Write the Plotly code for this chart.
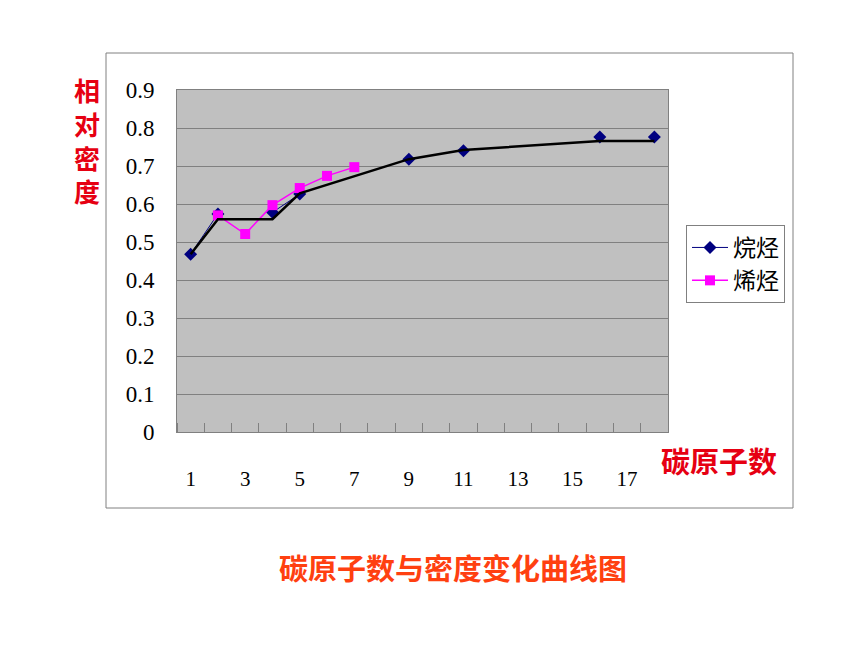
import plotly.graph_objects as go

# Data
carbon_numbers = list(range(1, 19))
alkane = [0.468, 0.574, None, 0.578, 0.626, None, None, None, 0.718, None,
          0.740, None, None, None, None, 0.776, None, 0.776]
alkene = [None, 0.570, 0.521, 0.597, 0.642, 0.674, 0.697, None, None, None,
          None, None, None, None, None, None, None, None]
trend_x = [1, 2, 4, 5, 9, 11, 16, 18]
trend_y = [0.468, 0.560, 0.560, 0.628, 0.718, 0.742, 0.766, 0.766]
y_ticks = [0, 0.1, 0.2, 0.3, 0.4, 0.5, 0.6, 0.7, 0.8, 0.9]
y_tick_text = ["0", "0.1", "0.2", "0.3", "0.4", "0.5", "0.6", "0.7", "0.8", "0.9"]
x_ticks = [1, 3, 5, 7, 9, 11, 13, 15, 17]
y_title_chars = ["相", "对", "密", "度"]

OFF = 8  # page body margin
W, H = 860 - OFF, 645 - OFF
L, R, T, B = 177 - OFF, 668 - OFF, 90 - OFF, 432 - OFF


def px(x):
    return (x - OFF - L) / (R - L)


def py(y):
    return (B - (y - OFF)) / (B - T)


fig = go.Figure()
fig.add_trace(go.Scatter(
    x=carbon_numbers, y=alkane, name="烷烃", mode="lines+markers",
    connectgaps=False,
    line=dict(color="#000080", width=1),
    marker=dict(symbol="diamond", size=10, color="#000080"),
))
fig.add_trace(go.Scatter(
    x=carbon_numbers, y=alkene, name="烯烃", mode="lines+markers",
    connectgaps=False,
    line=dict(color="#FF00FF", width=1.5),
    marker=dict(symbol="square", size=10, color="#FF00FF"),
))
fig.add_trace(go.Scatter(
    x=trend_x, y=trend_y, mode="lines", showlegend=False,
    line=dict(color="#000000", width=2.5),
))

serif = "Liberation Serif, DejaVu Serif, serif"
cjk_bold = "Noto Sans CJK SC"

fig.update_layout(
    width=W, height=H,
    margin=dict(l=L, r=W - R, t=T, b=H - B, autoexpand=False),
    paper_bgcolor="white",
    plot_bgcolor="#C0C0C0",
    font=dict(family=serif, color="#000000"),
    legend=dict(
        x=px(686), y=py(225), xanchor="left", yanchor="top",
        bgcolor="white", bordercolor="#808080", borderwidth=1,
        font=dict(family=cjk_bold, size=23, color="#000000"),
        itemwidth=36, tracegroupgap=4,
    ),
    xaxis=dict(
        range=[0.5, 18.5], tickmode="array", tickvals=x_ticks,
        ticks="", showgrid=False, zeroline=False,
        showline=True, linecolor="#808080", linewidth=1, mirror=True,
        tickfont=dict(family=serif, size=21, color="#000000"),
        ticklabelstandoff=28,
        minor=dict(ticks="inside", tick0=0.5, dtick=1, ticklen=9,
                   tickcolor="#808080", tickwidth=1, showgrid=False),
    ),
    yaxis=dict(
        range=[0, 0.9], tickmode="array", tickvals=y_ticks, ticktext=y_tick_text,
        ticks="", showgrid=True, gridcolor="#808080", gridwidth=1,
        zeroline=False, showline=True, linecolor="#808080", linewidth=1, mirror=True,
        tickfont=dict(family=serif, size=23, color="#000000"),
        ticklabelstandoff=17,
    ),
    showlegend=True,
)

# outer chart frame
fig.add_shape(type="rect", xref="paper", yref="paper",
              x0=px(106), x1=px(793), y0=py(508), y1=py(53),
              line=dict(color="#808080", width=1), fillcolor="rgba(0,0,0,0)",
              layer="below")

fig.add_annotation(text="<br>".join(y_title_chars), xref="paper", yref="paper",
                   x=px(87), y=py(139.5), xanchor="center", yanchor="middle",
                   showarrow=False, align="center",
                   font=dict(family=cjk_bold, size=26, color="#E60012", weight="bold"))
fig.add_annotation(text="碳原子数", xref="paper", yref="paper",
                   x=px(719), y=py(460), xanchor="center", yanchor="middle",
                   showarrow=False,
                   font=dict(family=cjk_bold, size=29, color="#E60012", weight="bold"))
fig.add_annotation(text="碳原子数与密度变化曲线图", xref="paper", yref="paper",
                   x=px(453), y=py(567), xanchor="center", yanchor="middle",
                   showarrow=False,
                   font=dict(family=cjk_bold, size=29, color="#FF4010", weight="bold"))

fig.write_html("out.html")
